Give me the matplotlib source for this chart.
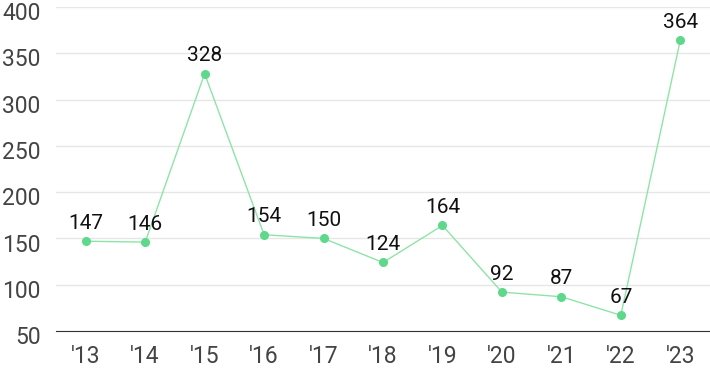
import matplotlib
matplotlib.use("Agg")
import matplotlib.pyplot as plt
from matplotlib.transforms import ScaledTranslation

years = ["'13", "'14", "'15", "'16", "'17", "'18", "'19", "'20", "'21", "'22", "'23"]
values = [147, 146, 328, 154, 150, 124, 164, 92, 87, 67, 364]
y_ticks = [50, 100, 150, 200, 250, 300, 350, 400]

plt.rcParams['font.family'] = ['Roboto', 'DejaVu Sans']

fig = plt.figure(figsize=(7.1, 3.71), dpi=100)
ax = fig.add_axes([56 / 710, 1 - 331 / 371, 1 - 56 / 710, (331 - 7) / 371])

x = list(range(len(years)))
ax.plot(x, values, color="#8ee4a8", lw=1, zorder=3)
ax.plot(x, values, "o", color="#5ed88a", ms=5.5, zorder=4)

for xi, v in zip(x, values):
    ax.annotate(str(v), (xi, v), xytext=(0, 6), textcoords="offset points",
                ha="center", va="bottom", fontsize=15, color="#111111")

ax.set_xlim(-0.5, len(years) - 0.5)
ax.set_ylim(50, 400)
ax.set_yticks(y_ticks)
ax.set_xticks(x)
ax.set_xticklabels(years)
ax.grid(axis="y", color="#e6e6e6", lw=1)
ax.set_axisbelow(True)
for s in ["left", "right", "top"]:
    ax.spines[s].set_visible(False)
ax.spines["bottom"].set_color("#333333")
ax.tick_params(axis="both", length=0, labelsize=16.5, colors="#444444")
ax.tick_params(axis="y", pad=11)
ax.tick_params(axis="x", pad=10)

# сдвигаю подписи оси y немного вниз, как в оригинале
shift = ScaledTranslation(0, -3 / 72, fig.dpi_scale_trans)
for lbl in ax.get_yticklabels():
    lbl.set_transform(lbl.get_transform() + shift)

fig.savefig("out.png", dpi=100)
